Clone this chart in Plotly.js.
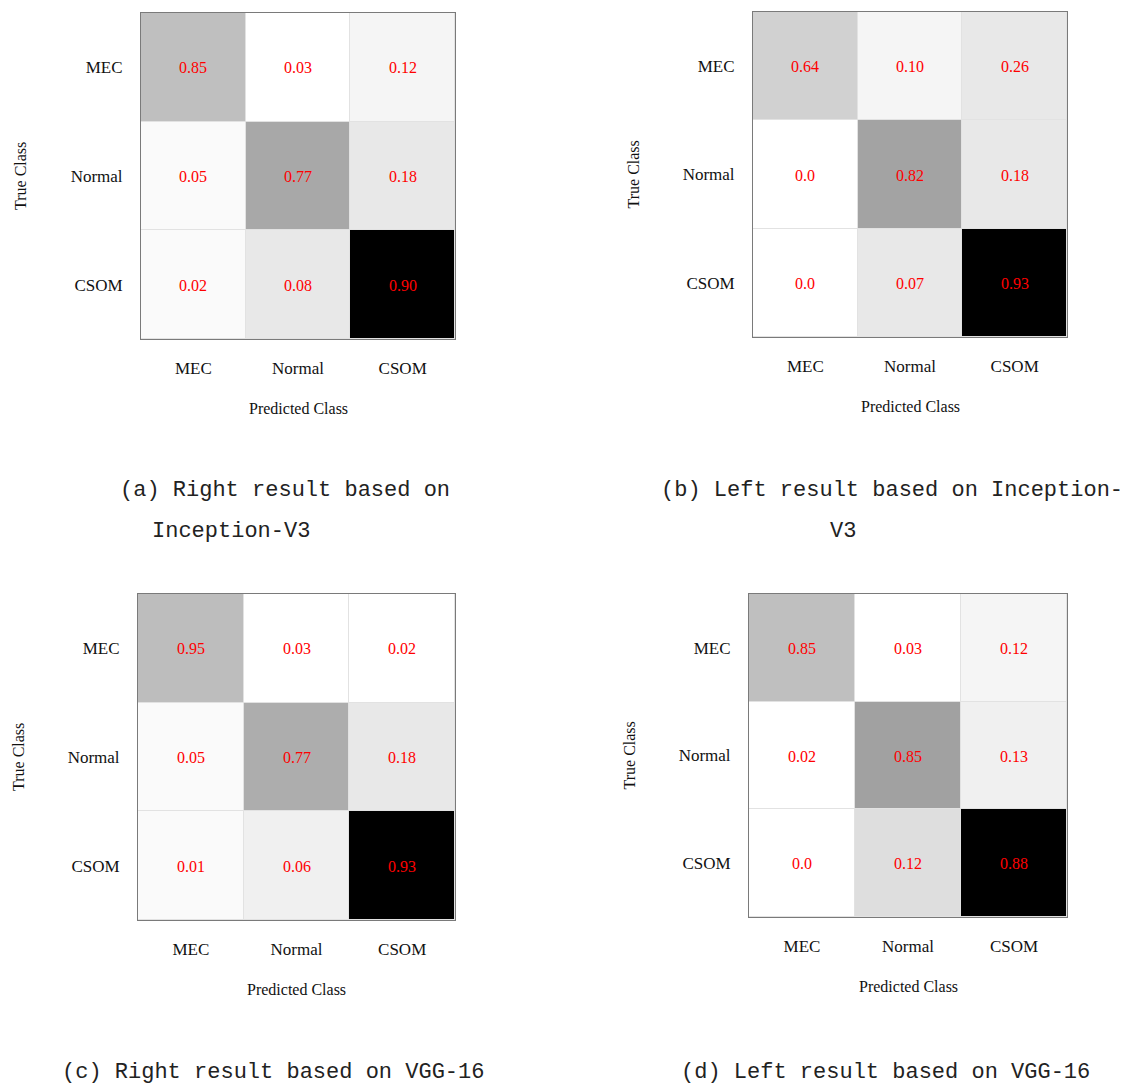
<!DOCTYPE html>
<html>
<head>
<meta charset="utf-8">
<script src="https://cdn.plot.ly/plotly-3.0.1.min.js"></script>
<style>
html,body{margin:0;padding:0;background:#fff;}
#chart{width:1125px;height:1085px;}
</style>
</head>
<body>
<div id="chart"></div>
<script>
// ---- data ----
var classes = ['MEC', 'Normal', 'CSOM'];

// (a) Right result based on Inception-V3
var valuesA = [[0.85, 0.03, 0.12], [0.05, 0.77, 0.18], [0.02, 0.08, 0.90]];
// (b) Left result based on Inception-V3
var valuesB = [[0.64, 0.10, 0.26], [0.0, 0.82, 0.18], [0.0, 0.07, 0.93]];
// (c) Right result based on VGG-16
var valuesC = [[0.95, 0.03, 0.02], [0.05, 0.77, 0.18], [0.01, 0.06, 0.93]];
// (d) Left result based on VGG-16
var valuesD = [[0.85, 0.03, 0.12], [0.02, 0.85, 0.13], [0.0, 0.12, 0.88]];

// cell shading (darkness 0..1)
var shadeA = [[0.25, 0.00, 0.04], [0.02, 0.34, 0.09], [0.02, 0.09, 1.00]];
var shadeB = [[0.18, 0.04, 0.09], [0.00, 0.36, 0.09], [0.00, 0.09, 1.00]];
var shadeC = [[0.26, 0.00, 0.00], [0.02, 0.32, 0.09], [0.02, 0.06, 1.00]];
var shadeD = [[0.25, 0.00, 0.04], [0.00, 0.37, 0.06], [0.00, 0.13, 1.00]];

var captions = [
  ['(a) Right result based on', 'Inception-V3'],
  ['(b) Left result based on Inception-', 'V3'],
  ['(c) Right result based on VGG-16'],
  ['(d) Left result based on VGG-16']
];

// ---- build ----
function fmt(v) { return v === 0 ? '0.0' : v.toFixed(2); }
function texts(m) { return m.map(function (r) { return r.map(fmt); }); }

var W = 1125, H = 1085;
// plot rectangles in pixels: [left, right, top, bottom]
var rects = [
  [141, 455, 13, 339],
  [753, 1067, 12, 337],
  [138, 455, 594, 920],
  [749, 1067, 594, 917]
];
var values = [valuesA, valuesB, valuesC, valuesD];
var shades = [shadeA, shadeB, shadeC, shadeD];

var serif = 'Liberation Serif, Times New Roman, serif';
var traces = [];
var layout = {
  width: W, height: H,
  margin: {l: 0, r: 0, t: 0, b: 0},
  paper_bgcolor: '#ffffff',
  plot_bgcolor: '#e2e2e2',
  showlegend: false,
  annotations: []
};

for (var i = 0; i < 4; i++) {
  var sfx = i === 0 ? '' : String(i + 1);
  var r = rects[i];
  traces.push({
    type: 'heatmap',
    x: classes, y: classes,
    z: shades[i],
    text: texts(values[i]),
    texttemplate: '%{text}',
    textfont: {family: serif, size: 16, color: '#ff0000'},
    colorscale: [[0, '#ffffff'], [1, '#000000']],
    zmin: 0, zmax: 1,
    showscale: false,
    xgap: 1, ygap: 1,
    hoverinfo: 'none',
    xaxis: 'x' + sfx, yaxis: 'y' + sfx
  });
  layout['xaxis' + sfx] = {
    domain: [r[0] / W, r[1] / W],
    anchor: 'y' + sfx,
    type: 'category',
    showgrid: false, zeroline: false,
    showline: true, mirror: true, linecolor: '#7a7a7a', linewidth: 1,
    ticks: '', ticklabelstandoff: 14,
    tickfont: {family: serif, size: 17, color: '#111'},
    fixedrange: true
  };
  layout['yaxis' + sfx] = {
    domain: [1 - r[3] / H, 1 - r[2] / H],
    anchor: 'x' + sfx,
    type: 'category',
    autorange: 'reversed',
    showgrid: false, zeroline: false,
    showline: true, mirror: true, linecolor: '#7a7a7a', linewidth: 1,
    ticks: '', ticklabelstandoff: 14,
    tickfont: {family: serif, size: 17, color: '#111'},
    fixedrange: true
  };
  var cx = (r[0] + r[1]) / 2;
  layout.annotations.push({
    text: 'Predicted Class', showarrow: false,
    xref: 'paper', yref: 'paper',
    x: cx / W, y: 1 - (r[3] + 69) / H,
    xanchor: 'center', yanchor: 'middle',
    font: {family: serif, size: 16, color: '#111'}
  });
  layout.annotations.push({
    text: 'True Class', showarrow: false, textangle: -90,
    xref: 'paper', yref: 'paper',
    x: (r[0] - 120) / W, y: 1 - ((r[2] + r[3]) / 2) / H,
    xanchor: 'center', yanchor: 'middle',
    font: {family: serif, size: 16, color: '#111'}
  });
}

// captions
var capPos = [
  [[118, 490], [150, 531]],
  [[659, 490], [828, 531]],
  [[60, 1072]],
  [[679, 1072]]
];
for (var c = 0; c < captions.length; c++) {
  for (var l = 0; l < captions[c].length; l++) {
    var p = capPos[c][l];
    layout.annotations.push({
      text: captions[c][l], showarrow: false,
      xref: 'paper', yref: 'paper',
      x: p[0] / W, y: 1 - p[1] / H,
      xanchor: 'left', yanchor: 'middle',
      font: {family: 'Liberation Mono, DejaVu Sans Mono, monospace', size: 22, color: '#222'}
    });
  }
}

Plotly.newPlot('chart', traces, layout, {staticPlot: true, displayModeBar: false});
</script>
</body>
</html>
